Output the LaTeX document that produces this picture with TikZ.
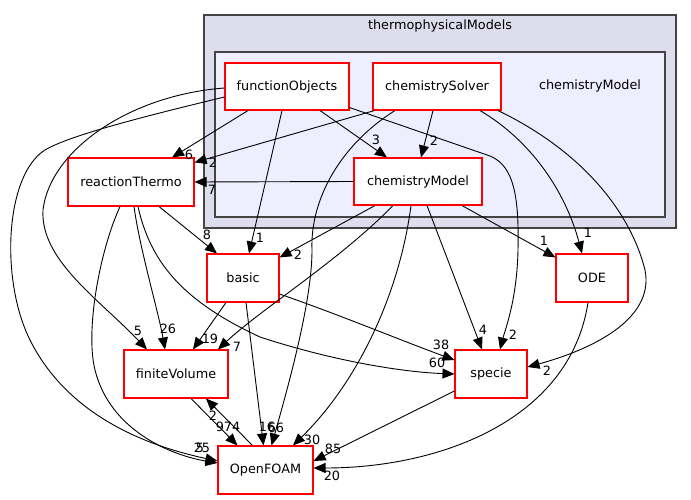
\documentclass[tikz,border=0pt]{standalone}
\usepackage{fontspec}
\setmainfont{DejaVu Sans}
\usetikzlibrary{arrows.meta}
\definecolor{cloutfill}{RGB}{221,221,238}
\definecolor{clinfill}{RGB}{238,238,255}
\definecolor{clborder}{RGB}{68,68,68}
\begin{document}
\begin{tikzpicture}[x=1pt,y=-1pt,
  font=\fontsize{12.8}{15}\selectfont,
  box/.style={draw=red, fill=white, line width=1.1pt, rectangle, inner sep=0pt},
  e/.style={draw=black, line width=0.9pt, -{Triangle[length=12pt,width=10pt]}},
  lab/.style={inner sep=0pt, font=\fontsize{12.8}{15}\selectfont},
  clout/.style={draw=clborder, fill=cloutfill, line width=1.4pt},
  clin/.style={draw=clborder, fill=clinfill, line width=1.4pt}]
\useasboundingbox (0,0) rectangle (691,500);
% clusters
\draw[clout] (204,15) rectangle (676,228);
\node[lab] (ctm) at (440,26) {thermophysicalModels};
\draw[clin] (215,52) rectangle (665,217);
\node[lab] (ccm) at (590,86) {chemistryModel};
% nodes
\node[box, minimum width=124pt, minimum height=47pt] (fo) at (287,86.5) {functionObjects};
\node[box, minimum width=128pt, minimum height=47pt] (cs) at (437,86.5) {chemistrySolver};
\node[box, minimum width=128pt, minimum height=47pt] (cm) at (418,181.5) {chemistryModel};
\node[box, minimum width=126pt, minimum height=48pt] (rt) at (131,182) {reactionThermo};
\node[box, minimum width=72pt, minimum height=48pt] (basic) at (243,278) {basic};
\node[box, minimum width=72pt, minimum height=48pt] (ode) at (592,278) {ODE};
\node[box, minimum width=104pt, minimum height=48pt] (fv) at (176,374) {finiteVolume};
\node[box, minimum width=72pt, minimum height=48pt] (sp) at (491,374) {specie};
\node[box, minimum width=95pt, minimum height=48pt] (of) at (265.5,470) {OpenFOAM};
% edges
\draw[e] ([xshift=-39pt]fo.south) -- ([xshift=41pt]rt.north);
\draw[e] ([xshift=2pt]cs.south west) -- ([yshift=-5pt]rt.north east);
\draw[e] (cm.west) -- (rt.east);
\draw[e] ([xshift=33pt]fo.south) -- ([xshift=-31pt]cm.north);
\draw[e] ([xshift=-4pt]cs.south) -- ([xshift=3pt]cm.north);
\draw[e] ([xshift=-5pt]fo.south) -- ([xshift=6pt]basic.north);
\draw[e] ([yshift=3pt]fo.south east) -- (490,156) .. controls (515,166) and (519,200) .. (518,250) .. controls (517,300) and (505,330) .. ([xshift=9pt]sp.north);
\draw[e] ([yshift=-1.5pt]fo.west) .. controls (130,95) and (50,150) .. (43,210) .. controls (40,260) and (100,300) .. ([xshift=-29pt]fv.north);
\draw[e] ([yshift=-10.5pt]fo.west) .. controls (150,115) and (70,135) .. (45,150) .. controls (5,175) and (0,280) .. (30,340) .. controls (60,400) and (120,440) .. ([yshift=9pt]of.west);
\draw[e] ([xshift=-11pt]rt.south) .. controls (100,250) and (85,330) .. (95,370) .. controls (110,430) and (170,455) .. ([yshift=7pt]of.west);
\draw[e] ([xshift=3pt]rt.south) .. controls (140,250) and (158,310) .. ([xshift=-11pt]fv.north);
\draw[e] ([xshift=7pt]rt.south) .. controls (150,260) and (180,300) .. (260,337) .. controls (330,360) and (400,372) .. (sp.west);
\draw[e] ([xshift=28pt]rt.south) -- ([xshift=-26pt]basic.north);
\draw[e] ([xshift=-43pt]cm.south) -- ([yshift=-4pt]basic.north east);
\draw[e] ([xshift=-25pt]cm.south) .. controls (340,260) and (260,310) .. ([xshift=42pt]fv.north);
\draw[e] ([xshift=-7pt]cm.south) .. controls (400,290) and (360,380) .. ([xshift=27.5pt]of.north);
\draw[e] ([xshift=9pt]cm.south) -- ([xshift=-9pt]sp.north);
\draw[e] ([xshift=44pt]cm.south) -- ([yshift=-4pt]ode.north west);
\draw[e] ([xshift=43pt]cs.south) .. controls (530,140) and (565,190) .. ([xshift=-10pt]ode.north);
\draw[e] ([xshift=61pt]cs.south) .. controls (580,150) and (630,210) .. (645,270) .. controls (655,320) and (590,350) .. ([yshift=7pt]sp.east);
\draw[e] ([xshift=-42pt]cs.south) .. controls (340,145) and (310,200) .. (312,250) .. controls (312,300) and (290,380) .. ([xshift=6pt]of.north);
\draw[e] ([xshift=-17pt]basic.south) -- ([xshift=17pt]fv.north);
\draw[e] ([xshift=3pt]basic.south) -- ([xshift=-2pt]of.north);
\draw[e] ([yshift=-16pt]basic.east) .. controls (340,315) and (400,340) .. ([yshift=14pt]sp.west);
\draw[e] ([xshift=15pt]fv.south) -- ([xshift=-28pt]of.north);
\draw[e] ([xshift=-13pt]of.north) -- ([xshift=30pt]fv.south);
\draw[e] ([yshift=-17pt]sp.west) -- ([yshift=9pt]of.east);
\draw[e] ([xshift=-4pt]ode.south) .. controls (570,420) and (440,468) .. ([yshift=2pt]of.east);
% edge labels
\node[lab] (l1) at (189,155) {6};
\node[lab] (l2) at (213,163) {2};
\node[lab] (l3) at (212,190) {7};
\node[lab] (l4) at (376,140) {3};
\node[lab] (l5) at (434,141) {2};
\node[lab] (l6) at (260,238) {1};
\node[lab] (l7) at (207,235) {8};
\node[lab] (l8) at (513,335) {2};
\node[lab] (l9) at (544,241) {1};
\node[lab] (l10) at (588,233) {1};
\node[lab] (l11) at (298,255) {2};
\node[lab] (l12) at (138,331) {5};
\node[lab] (l13) at (168,329) {26};
\node[lab] (l14) at (210,339) {19};
\node[lab] (l15) at (237,347) {7};
\node[lab] (l16) at (213,416) {2};
\node[lab] (l17) at (228,427) {974};
\node[lab] (l18) at (267,427) {16};
\node[lab] (l19) at (276,428) {66};
\node[lab] (l20) at (202,448) {25};
\node[lab] (l21) at (200,448) {5};
\node[lab] (l22) at (312,440) {30};
\node[lab] (l23) at (333,449) {85};
\node[lab] (l24) at (332,476) {20};
\node[lab] (l25) at (441,345) {38};
\node[lab] (l26) at (437,363) {60};
\node[lab] (l27) at (483,330) {4};
\node[lab] (l28) at (547,371) {2};
\end{tikzpicture}
\end{document}
